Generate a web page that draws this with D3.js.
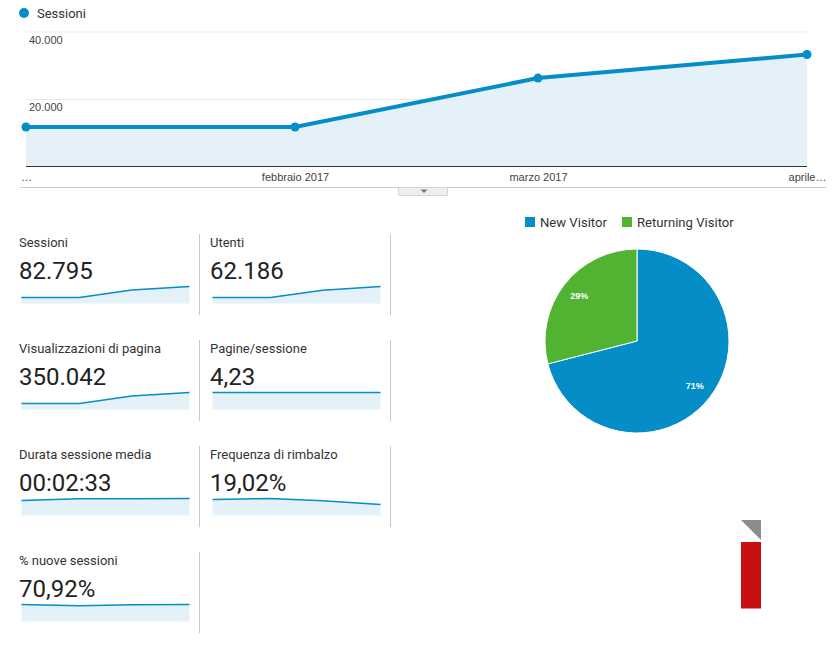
<!DOCTYPE html>
<html>
<head>
<meta charset="utf-8">
<script src="https://cdn.jsdelivr.net/npm/d3@7"></script>
<style>
  html, body { margin: 0; padding: 0; background: #fff; }
  svg { display: block; font-family: Roboto, sans-serif; }
  .axis text { font-family: "Liberation Sans", Arial, sans-serif; font-size: 11px; fill: #444; }
  .axis .domain { display: none; }
</style>
</head>
<body>
<svg id="chart" width="838" height="652"></svg>
<script>
// ── Data ─────────────────────────────────────────
const months      = ['2017-01-01', '2017-02-01', '2017-03-01', '2017-04-01'];
const sessions    = [11700, 11700, 26200, 33200];
const yTicks      = [20000, 40000];
const xTickLabels = ['…', 'febbraio 2017', 'marzo 2017', 'aprile…'];

const metricNames  = ['Sessioni', 'Utenti', 'Visualizzazioni di pagina', 'Pagine/sessione',
                      'Durata sessione media', 'Frequenza di rimbalzo', '% nuove sessioni'];
const metricValues = ['82.795', '62.186', '350.042', '4,23', '00:02:33', '19,02%', '70,92%'];
const sparkSeries  = [
  [11700, 11700, 26200, 33200],
  [8800, 8700, 19500, 24800],
  [49200, 48900, 111900, 140042],
  [4.22, 4.23, 4.24, 4.23],
  [137, 152, 153, 155],
  [22.4, 23.8, 20.5, 15.5],
  [71.9, 66.5, 70.8, 72]
];

const pieNames  = ['New Visitor', 'Returning Visitor'];
const pieValues = [71, 29];

// ── Styles ───────────────────────────────────────
const blue     = '#058dc7';
const green    = '#50b432';
const areaFill = '#e4f1f8';
const gridCol  = '#e8e8e8';
const textCol  = '#333';

const svg = d3.select('#chart');
const parseDay = d3.timeParse('%Y-%m-%d');
const dates = months.map(parseDay);
const itFormat = d3.formatLocale({ decimal: ',', thousands: '.', grouping: [3], currency: ['', ' €'] }).format(',d');

// ── Main line chart ──────────────────────────────
const x = d3.scaleTime().domain(d3.extent(dates)).range([26, 807]);
const y = d3.scaleLinear().domain([0, 40000]).range([166.5, 31.5]);
const points = dates.map((d, i) => ({ date: d, value: sessions[i] }));

svg.append('circle').attr('cx', 24).attr('cy', 13).attr('r', 5).attr('fill', blue);
svg.append('text').attr('x', 37).attr('y', 18).attr('font-size', 13).attr('fill', textCol).text('Sessioni');

svg.append('path').datum(points)
  .attr('fill', areaFill)
  .attr('d', d3.area().x(d => x(d.date)).y0(y(0)).y1(d => y(d.value)));

const yAxis = svg.append('g').attr('class', 'axis')
  .attr('transform', 'translate(26,0)')
  .call(d3.axisLeft(y).tickValues(yTicks).tickFormat(itFormat).tickSize(-781));
yAxis.selectAll('.tick line').attr('stroke', gridCol).attr('stroke-opacity', 0.9);
yAxis.selectAll('.tick text')
  .attr('x', 3).attr('dy', 11.5).attr('text-anchor', 'start');

// zero line sits on top of the area
svg.append('line')
  .attr('x1', x.range()[0]).attr('x2', x.range()[1])
  .attr('y1', y(0)).attr('y2', y(0))
  .attr('stroke', '#333').attr('stroke-width', 1);

const xAxis = svg.append('g').attr('class', 'axis')
  .attr('transform', `translate(0,${y(0)})`)
  .call(d3.axisBottom(x).tickValues(dates).tickFormat((d, i) => xTickLabels[i]).tickSize(0).tickPadding(6.5));

svg.append('path').datum(points)
  .attr('fill', 'none').attr('stroke', blue).attr('stroke-width', 4)
  .attr('d', d3.line().x(d => x(d.date)).y(d => y(d.value)));

svg.selectAll('.dot').data(points).enter().append('circle')
  .attr('class', 'dot')
  .attr('cx', d => x(d.date)).attr('cy', d => y(d.value)).attr('r', 4.5)
  .attr('fill', blue);

// ── Collapse bar under the chart ─────────────────
svg.append('line').attr('x1', 20).attr('x2', 826).attr('y1', 187.5).attr('y2', 187.5)
  .attr('stroke', '#ccc');
svg.append('rect').attr('x', 398.5).attr('y', 187.5).attr('width', 49).attr('height', 8)
  .attr('rx', 1).attr('fill', '#eee').attr('stroke', '#d4d4d4');
svg.append('path').attr('d', 'M420.5,189.5h7l-3.5,3.5z').attr('fill', '#777');

// ── Metric tiles ─────────────────────────────────
const tileX = [19, 210];
const tileY = [234, 340, 446, 552];
const sparkW = 168, sparkH = 17;

metricNames.forEach((name, i) => {
  const col = i % 2, row = Math.floor(i / 2);
  const g = svg.append('g').attr('transform', `translate(${tileX[col]},${tileY[row]})`);

  g.append('text').attr('y', 13).attr('font-size', 13).attr('fill', textCol).text(name);
  g.append('text').attr('y', 45).attr('font-size', 24).attr('fill', '#222').text(metricValues[i]);

  const sx = d3.scaleTime().domain(d3.extent(dates)).range([2.5, 2.5 + sparkW]);
  const sy = d3.scaleLinear().domain([0, d3.max(sparkSeries[i])]).range([69.5, 69.5 - sparkH]);
  const rows = dates.map((d, k) => ({ date: d, value: sparkSeries[i][k] }));

  g.append('path').datum(rows).attr('fill', areaFill)
    .attr('d', d3.area().x(d => sx(d.date)).y0(sy(0)).y1(d => sy(d.value)));
  g.append('path').datum(rows).attr('fill', 'none').attr('stroke', blue).attr('stroke-width', 1.5)
    .attr('d', d3.line().x(d => sx(d.date)).y(d => sy(d.value)));

  g.append('line').attr('x1', 180.5).attr('x2', 180.5).attr('y1', 0).attr('y2', 81)
    .attr('stroke', '#c8c8c8');
});

// ── Pie ──────────────────────────────────────────
const pieColor = d3.scaleOrdinal().domain(pieNames).range([blue, green]);
const pie = d3.pie().sort(null)(pieValues);
const arc = d3.arc().innerRadius(0).outerRadius(92);
const labelArc = d3.arc().innerRadius(73).outerRadius(73);
const pieG = svg.append('g').attr('transform', 'translate(637,341)');

pieG.selectAll('path').data(pie).enter().append('path')
  .attr('d', arc)
  .attr('fill', (d, i) => pieColor(pieNames[i]))
  .attr('stroke', '#fff').attr('stroke-width', 1);

pieG.selectAll('text').data(pie).enter().append('text')
  .attr('transform', d => `translate(${labelArc.centroid(d)})`)
  .attr('text-anchor', 'middle').attr('dy', '0.35em')
  .attr('font-family', '"Liberation Sans", Arial, sans-serif')
  .attr('font-size', 9).attr('font-weight', 'bold').attr('fill', '#fff')
  .text(d => `${d.value}%`);

const legendX = [525, 622];
pieNames.forEach((name, i) => {
  svg.append('rect').attr('x', legendX[i]).attr('y', 217).attr('width', 10).attr('height', 10)
    .attr('fill', pieColor(name));
  svg.append('text').attr('x', legendX[i] + 15).attr('y', 227).attr('font-size', 13.1)
    .attr('fill', textCol).text(name);
});

// ── Logo mark bottom right ───────────────────────
svg.append('path').attr('d', 'M741,520H761V540Z').attr('fill', '#8c8c8c');
svg.append('rect').attr('x', 741).attr('y', 542).attr('width', 20).attr('height', 66.5).attr('fill', '#c8100f');
</script>
</body>
</html>
